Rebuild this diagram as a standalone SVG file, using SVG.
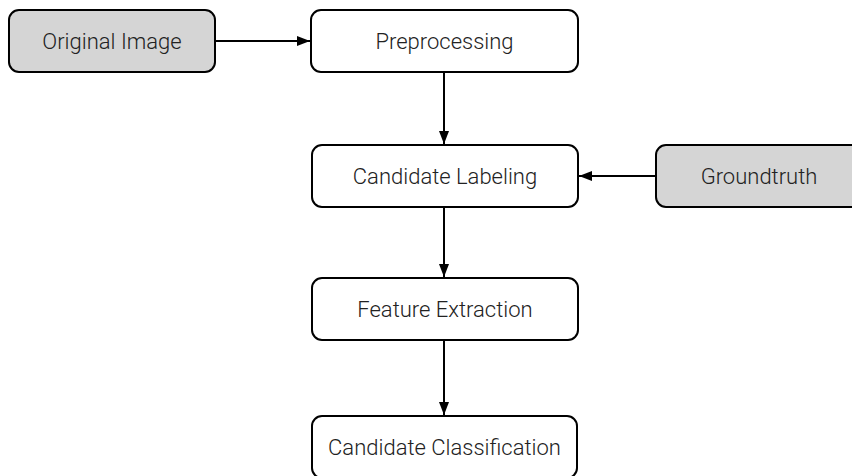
<svg xmlns="http://www.w3.org/2000/svg" width="852" height="476" viewBox="0 0 852 476">
  <style>
    .box { fill: #ffffff; stroke: #000000; stroke-width: 2; }
    .src { fill: #d5d5d5; }
    .label { font-family: Roboto, "Liberation Sans", sans-serif; font-weight: 300; font-size: 22px; fill: #222222; text-anchor: middle; dominant-baseline: central; }
    .edge { stroke: #000000; stroke-width: 2; fill: none; marker-end: url(#arrow); }
  </style>
  <defs>
    <marker id="arrow" viewBox="0 0 13 10" refX="13" refY="5" markerWidth="13" markerHeight="10" markerUnits="userSpaceOnUse" orient="auto">
      <path d="M0,0 L13,5 L0,10 Z" fill="#000000"/>
    </marker>
  </defs>
  <rect width="852" height="476" fill="#ffffff"/>

  <g id="connectors">
    <line class="edge" x1="216" y1="41" x2="310" y2="41"/>
    <line class="edge" x1="444" y1="72" x2="444" y2="144"/>
    <line class="edge" x1="656" y1="176" x2="579" y2="176"/>
    <line class="edge" x1="444" y1="207" x2="444" y2="277"/>
    <line class="edge" x1="444" y1="340" x2="444" y2="415"/>
  </g>

  <g id="original-image">
    <rect class="box src" x="9" y="10" width="206" height="62" rx="10"/>
    <text class="label" x="112" y="41">Original Image</text>
  </g>
  <g id="preprocessing">
    <rect class="box" x="311" y="10" width="267" height="62" rx="10"/>
    <text class="label" x="444.5" y="41">Preprocessing</text>
  </g>
  <g id="candidate-labeling">
    <rect class="box" x="312" y="145" width="266" height="62" rx="10"/>
    <text class="label" x="445" y="176">Candidate Labeling</text>
  </g>
  <g id="groundtruth">
    <rect class="box src" x="656" y="145" width="220" height="62" rx="10"/>
    <text class="label" x="759" y="176">Groundtruth</text>
  </g>
  <g id="feature-extraction">
    <rect class="box" x="312" y="278" width="266" height="62" rx="10"/>
    <text class="label" x="445" y="309">Feature Extraction</text>
  </g>
  <g id="candidate-classification">
    <rect class="box" x="312" y="416" width="265" height="62" rx="10"/>
    <text class="label" x="444.5" y="447">Candidate Classification</text>
  </g>
</svg>
